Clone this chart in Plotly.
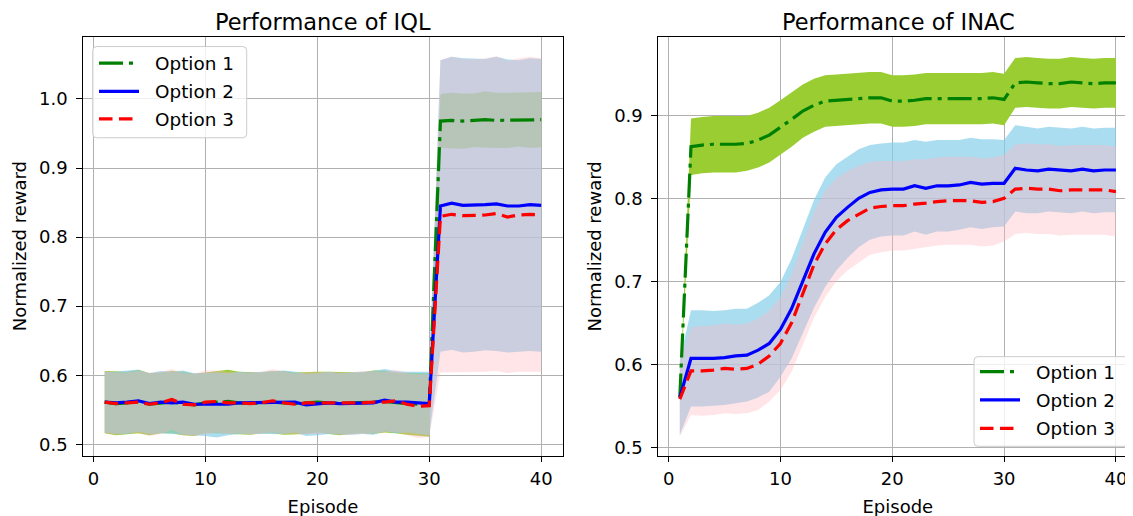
import plotly.graph_objects as go

episodes = list(range(1, 41))
option_names = ["Option 1", "Option 2", "Option 3"]
line_colors = ["#008000", "#0000ff", "#ff0000"]
band_colors = ["rgba(154,205,50,1.0)", "rgba(135,206,235,0.7)", "rgba(255,182,193,0.37)"]
line_dashes = ["24px,6px,4px,6px", "solid", "13.5px,6.5px"]

# ---- IQL ----
iql_opt1_mean = [0.561, 0.559, 0.560, 0.562, 0.558, 0.560, 0.561, 0.559, 0.557, 0.560,
                 0.561, 0.562, 0.560, 0.559, 0.560, 0.561, 0.560, 0.559, 0.560, 0.561,
                 0.560, 0.559, 0.560, 0.560, 0.561, 0.562, 0.560, 0.559, 0.558, 0.557,
                 0.968, 0.969, 0.968, 0.969, 0.970, 0.969, 0.969, 0.970, 0.969, 0.970]
iql_opt1_std = [0.045, 0.046, 0.045, 0.046, 0.045, 0.044, 0.045, 0.046, 0.045, 0.044,
                0.045, 0.046, 0.045, 0.045, 0.044, 0.045, 0.046, 0.045, 0.045, 0.044,
                0.045, 0.046, 0.045, 0.044, 0.046, 0.045, 0.044, 0.045, 0.046, 0.046,
                0.039, 0.040, 0.040, 0.039, 0.041, 0.040, 0.040, 0.039, 0.040, 0.040]
iql_opt2_mean = [0.561, 0.560, 0.561, 0.563, 0.559, 0.561, 0.560, 0.561, 0.558, 0.558,
                 0.557, 0.558, 0.560, 0.560, 0.560, 0.560, 0.561, 0.561, 0.557, 0.558,
                 0.560, 0.559, 0.559, 0.560, 0.560, 0.564, 0.561, 0.561, 0.560, 0.559,
                 0.845, 0.849, 0.846, 0.846, 0.847, 0.848, 0.845, 0.845, 0.847, 0.846]
iql_opt2_std = [0.044, 0.045, 0.046, 0.045, 0.044, 0.045, 0.045, 0.046, 0.045, 0.046,
                0.047, 0.045, 0.045, 0.044, 0.045, 0.045, 0.046, 0.044, 0.045, 0.045,
                0.045, 0.044, 0.045, 0.045, 0.046, 0.045, 0.045, 0.044, 0.045, 0.046,
                0.211, 0.212, 0.213, 0.212, 0.211, 0.213, 0.212, 0.211, 0.212, 0.212]
iql_opt3_mean = [0.561, 0.559, 0.560, 0.561, 0.558, 0.560, 0.565, 0.558, 0.557, 0.561,
                 0.562, 0.560, 0.560, 0.559, 0.560, 0.563, 0.560, 0.558, 0.560, 0.560,
                 0.560, 0.559, 0.559, 0.560, 0.561, 0.561, 0.563, 0.558, 0.555, 0.556,
                 0.830, 0.833, 0.831, 0.831, 0.832, 0.834, 0.829, 0.832, 0.833, 0.832]
iql_opt3_std = [0.045, 0.045, 0.044, 0.045, 0.046, 0.045, 0.044, 0.045, 0.045, 0.046,
                0.045, 0.045, 0.044, 0.045, 0.045, 0.046, 0.045, 0.044, 0.045, 0.045,
                0.044, 0.045, 0.045, 0.046, 0.045, 0.044, 0.045, 0.045, 0.046, 0.045,
                0.226, 0.228, 0.227, 0.226, 0.227, 0.228, 0.226, 0.227, 0.228, 0.227]

# ---- INAC ----
inac_opt1_mean = [0.560, 0.862, 0.864, 0.865, 0.865, 0.865, 0.866, 0.870, 0.876, 0.885,
                  0.895, 0.905, 0.912, 0.917, 0.918, 0.919, 0.920, 0.921, 0.921, 0.917,
                  0.917, 0.918, 0.920, 0.920, 0.920, 0.920, 0.920, 0.920, 0.921, 0.919,
                  0.939, 0.940, 0.939, 0.938, 0.938, 0.940, 0.939, 0.938, 0.939, 0.939]
inac_opt1_std = [0.002, 0.034, 0.034, 0.034, 0.034, 0.034, 0.033, 0.033, 0.033, 0.033,
                 0.033, 0.032, 0.032, 0.031, 0.031, 0.031, 0.031, 0.031, 0.031, 0.031,
                 0.031, 0.031, 0.031, 0.031, 0.031, 0.031, 0.031, 0.031, 0.031, 0.031,
                 0.030, 0.030, 0.030, 0.030, 0.030, 0.030, 0.030, 0.030, 0.030, 0.030]
inac_opt2_mean = [0.560, 0.607, 0.607, 0.607, 0.608, 0.610, 0.611, 0.617, 0.625, 0.642,
                  0.667, 0.700, 0.733, 0.759, 0.777, 0.789, 0.800, 0.807, 0.810, 0.811,
                  0.811, 0.815, 0.812, 0.815, 0.815, 0.816, 0.819, 0.817, 0.818, 0.818,
                  0.836, 0.834, 0.833, 0.835, 0.834, 0.833, 0.835, 0.833, 0.834, 0.834]
inac_opt2_std = [0.045, 0.058, 0.058, 0.057, 0.057, 0.057, 0.056, 0.057, 0.058, 0.057,
                 0.060, 0.063, 0.065, 0.066, 0.064, 0.061, 0.059, 0.057, 0.056, 0.056,
                 0.056, 0.055, 0.056, 0.055, 0.055, 0.054, 0.054, 0.054, 0.053, 0.052,
                 0.052, 0.052, 0.051, 0.051, 0.051, 0.051, 0.051, 0.051, 0.051, 0.051]
inac_opt3_mean = [0.558, 0.592, 0.592, 0.593, 0.595, 0.594, 0.595, 0.600, 0.610, 0.625,
                  0.650, 0.685, 0.720, 0.745, 0.762, 0.773, 0.781, 0.788, 0.790, 0.791,
                  0.791, 0.793, 0.794, 0.796, 0.797, 0.797, 0.797, 0.795, 0.796, 0.800,
                  0.811, 0.812, 0.811, 0.811, 0.809, 0.810, 0.810, 0.810, 0.810, 0.808]
inac_opt3_std = [0.045, 0.053, 0.054, 0.054, 0.054, 0.054, 0.054, 0.055, 0.055, 0.056,
                 0.059, 0.062, 0.064, 0.064, 0.062, 0.060, 0.058, 0.056, 0.055, 0.054,
                 0.054, 0.054, 0.053, 0.053, 0.053, 0.053, 0.053, 0.053, 0.053, 0.052,
                 0.054, 0.054, 0.054, 0.054, 0.054, 0.054, 0.054, 0.054, 0.054, 0.054]

panels = [
    dict(means=[iql_opt1_mean, iql_opt2_mean, iql_opt3_mean],
         stds=[iql_opt1_std, iql_opt2_std, iql_opt3_std], xaxis="x", yaxis="y"),
    dict(means=[inac_opt1_mean, inac_opt2_mean, inac_opt3_mean],
         stds=[inac_opt1_std, inac_opt2_std, inac_opt3_std], xaxis="x2", yaxis="y2"),
]

W, H = 1133, 516
OFF = 8  # page body margin offset


def PX(x):
    return (x - OFF) / W


def PY(y):
    return 1 - (y - OFF) / H


fig = go.Figure()
for p in panels:
    for i in range(3):
        m, s = p["means"][i], p["stds"][i]
        upper = [a + b for a, b in zip(m, s)]
        lower = [a - b for a, b in zip(m, s)]
        fig.add_trace(go.Scatter(
            x=episodes + episodes[::-1], y=upper + lower[::-1],
            fill="toself", fillcolor=band_colors[i], line=dict(width=0),
            mode="lines", hoverinfo="skip", showlegend=False,
            xaxis=p["xaxis"], yaxis=p["yaxis"]))
    for i in range(3):
        fig.add_trace(go.Scatter(
            x=episodes, y=p["means"][i], mode="lines", name=option_names[i],
            line=dict(color=line_colors[i], width=3.2, dash=line_dashes[i]),
            showlegend=False, xaxis=p["xaxis"], yaxis=p["yaxis"]))

FAM = "DejaVu Sans"
tick_font = dict(family=FAM, size=18, color="black")
label_font = dict(family=FAM, size=18, color="black")
legend_font = dict(family=FAM, size=18.4, color="black")
title_font = dict(family=FAM, size=22.5, color="black")

axis_common = dict(showline=True, linecolor="black", linewidth=1.2, mirror=True,
                   showgrid=True, gridcolor="#b0b0b0", gridwidth=1, zeroline=False,
                   ticks="outside", ticklen=5.5, tickcolor="black", tickwidth=1.2,
                   tickfont=tick_font)

# ---- hand-drawn legends (matplotlib style) ----
shapes = []
annotations = []


def add_legend(box_l, box_r, box_t, box_b, rows_y, line_l, line_r, text_l):
    r = 4
    x0, x1 = PX(box_l), PX(box_r)
    y0, y1 = PY(box_b), PY(box_t)
    rx, ry = r / W, r / H
    path = (f"M{x0 + rx},{y1} L{x1 - rx},{y1} Q{x1},{y1} {x1},{y1 - ry} "
            f"L{x1},{y0 + ry} Q{x1},{y0} {x1 - rx},{y0} L{x0 + rx},{y0} "
            f"Q{x0},{y0} {x0},{y0 + ry} L{x0},{y1 - ry} Q{x0},{y1} {x0 + rx},{y1} Z")
    shapes.append(dict(type="path", path=path, xref="paper", yref="paper",
                       fillcolor="rgba(255,255,255,0.8)",
                       line=dict(color="#cccccc", width=1), layer="above"))
    for i, yy in enumerate(rows_y):
        shapes.append(dict(type="line", xref="paper", yref="paper",
                           x0=PX(line_l), x1=PX(line_r), y0=PY(yy), y1=PY(yy),
                           line=dict(color=line_colors[i], width=3.2, dash=line_dashes[i]),
                           layer="above"))
        annotations.append(dict(text=option_names[i], x=PX(text_l), y=PY(yy + 0.5),
                                xref="paper", yref="paper", showarrow=False,
                                xanchor="left", yanchor="middle", font=legend_font))


add_legend(92.7, 246.7, 46.7, 138.3, [63.3, 91.7, 119.3], 99, 139, 153)
add_legend(974, 1128, 358, 448, [373, 401.5, 430], 980, 1020, 1034)

annotations.append(dict(text="Performance of IQL", x=PX(323), y=1.0, xref="paper", yref="paper",
                        showarrow=False, xanchor="center", yanchor="top", borderpad=0,
                        font=title_font))
annotations.append(dict(text="Performance of INAC", x=PX(898.5), y=1.0, xref="paper",
                        yref="paper", showarrow=False, xanchor="center", yanchor="top",
                        borderpad=0, font=title_font))

fig.update_layout(
    width=W, height=H,
    margin=dict(l=0, r=0, t=0, b=0),
    paper_bgcolor="white", plot_bgcolor="white",
    font=label_font,
    showlegend=False,
    xaxis=dict(domain=[PX(82.9), PX(563)], range=[-0.95, 41.95], tickvals=[0, 10, 20, 30, 40],
               anchor="y", ticklabelstandoff=1,
               title=dict(text="Episode", font=label_font, standoff=12), **axis_common),
    yaxis=dict(domain=[PY(457.3), PY(36.7)], range=[0.4837, 1.0903],
               tickvals=[0.5, 0.6, 0.7, 0.8, 0.9, 1.0], tickformat=".1f",
               anchor="x", ticklabelstandoff=5,
               title=dict(text="Normalized reward", font=label_font, standoff=7), **axis_common),
    xaxis2=dict(domain=[PX(658), PX(1137.7)], range=[-0.95, 41.95], tickvals=[0, 10, 20, 30, 40],
                anchor="y2", ticklabelstandoff=1,
                title=dict(text="Episode", font=label_font, standoff=12), **axis_common),
    yaxis2=dict(domain=[PY(457.3), PY(37.3)], range=[0.490, 0.994],
                tickvals=[0.5, 0.6, 0.7, 0.8, 0.9], tickformat=".1f",
                anchor="x2", ticklabelstandoff=5,
                title=dict(text="Normalized reward", font=label_font, standoff=7), **axis_common),
    shapes=shapes,
    annotations=annotations,
)

fig.write_html("out.html")
